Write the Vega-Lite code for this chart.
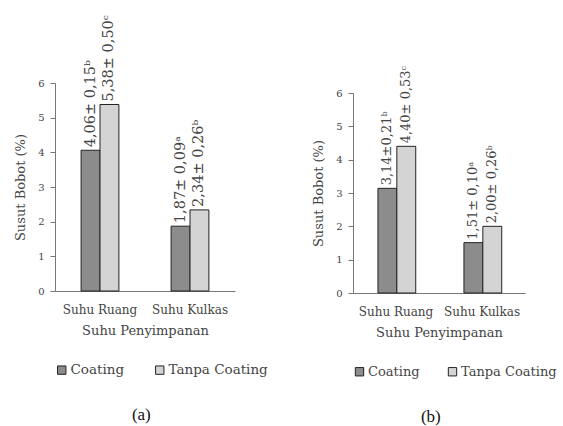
{
  "$schema": "https://vega.github.io/schema/vega-lite/v6.json",
  "background": "white",
  "padding": {"left": 14, "top": 15, "right": 3, "bottom": 5},
  "spacing": 44,
  "config": {
    "font": "DejaVu Serif",
    "view": {"stroke": null},
    "axis": {
      "labelFont": "DejaVu Serif",
      "titleFont": "DejaVu Serif",
      "labelFontSize": 11,
      "titleFontSize": 13,
      "titleFontWeight": "normal",
      "labelColor": "#444",
      "titleColor": "#444",
      "domainColor": "#777",
      "tickColor": "#777",
      "tickSize": 5,
      "grid": false
    },
    "legend": {
      "labelFont": "DejaVu Serif",
      "labelFontSize": 13.5,
      "labelColor": "#444",
      "symbolType": "square",
      "symbolSize": 70,
      "symbolStrokeColor": "#222",
      "symbolStrokeWidth": 1,
      "columnPadding": 28,
      "labelOffset": 2,
      "offset": 26
    },
    "title": {"font": "Liberation Serif", "fontSize": 17, "fontWeight": "normal", "color": "#111"}
  },
  "resolve": {"legend": {"fill": "independent"}, "scale": {"y": "independent", "x": "independent"}},
  "hconcat": [
    {
      "width": 180,
      "height": 208,
      "title": {"text": "(a)", "orient": "bottom", "offset": 30, "frame": "bounds", "anchor": "middle", "dx": 0},
      "data": {"values": [
        {"suhu": "Suhu Ruang", "perlakuan": "Coating", "nilai": 4.06, "label": "4,06± 0,15ᵇ"},
        {"suhu": "Suhu Ruang", "perlakuan": "Tanpa Coating", "nilai": 5.38, "label": "5,38± 0,50ᶜ"},
        {"suhu": "Suhu Kulkas", "perlakuan": "Coating", "nilai": 1.87, "label": "1,87± 0,09ᵃ"},
        {"suhu": "Suhu Kulkas", "perlakuan": "Tanpa Coating", "nilai": 2.34, "label": "2,34± 0,26ᵇ"}
      ]},
      "encoding": {
        "x": {"field": "suhu", "type": "nominal", "sort": ["Suhu Ruang", "Suhu Kulkas"],
              "scale": {"paddingInner": 0.58, "paddingOuter": 0.29},
              "axis": {"title": "Suhu Penyimpanan", "labelAngle": 0, "ticks": false, "labelPadding": 13, "titlePadding": 9, "labelFontSize": 12}},
        "xOffset": {"field": "perlakuan", "type": "nominal", "sort": ["Coating", "Tanpa Coating"]},
        "y": {"field": "nilai", "type": "quantitative", "scale": {"domain": [0, 6]},
              "axis": {"title": "Susut Bobot (%)", "tickCount": 6, "labelPadding": 6, "titlePadding": 10, "labelFontSize": 10}}
      },
      "layer": [
        {"mark": {"type": "bar", "stroke": "#222", "strokeWidth": 1},
         "encoding": {"fill": {"field": "perlakuan", "type": "nominal",
           "scale": {"domain": ["Coating", "Tanpa Coating"], "range": ["#8c8c8c", "#d4d4d4"]},
           "legend": {"orient": "bottom", "direction": "horizontal", "title": null}}}},
        {"mark": {"type": "text", "angle": 270, "align": "left", "baseline": "middle", "dx": 3, "fontSize": 14.5, "font": "DejaVu Serif", "color": "#444"},
         "encoding": {"text": {"field": "label"}}}
      ]
    },
    {
      "width": 172,
      "height": 210,
      "title": {"text": "(b)", "orient": "bottom", "offset": 30, "frame": "bounds", "anchor": "middle", "dx": -4},
      "data": {"values": [
        {"suhu": "Suhu Ruang", "perlakuan": "Coating", "nilai": 3.14, "label": "3,14±0,21ᵇ"},
        {"suhu": "Suhu Ruang", "perlakuan": "Tanpa Coating", "nilai": 4.40, "label": "4,40± 0,53ᶜ"},
        {"suhu": "Suhu Kulkas", "perlakuan": "Coating", "nilai": 1.51, "label": "1,51± 0,10ᵃ"},
        {"suhu": "Suhu Kulkas", "perlakuan": "Tanpa Coating", "nilai": 2.00, "label": "2,00± 0,26ᵇ"}
      ]},
      "encoding": {
        "x": {"field": "suhu", "type": "nominal", "sort": ["Suhu Ruang", "Suhu Kulkas"],
              "scale": {"paddingInner": 0.58, "paddingOuter": 0.29},
              "axis": {"title": "Suhu Penyimpanan", "labelAngle": 0, "ticks": false, "labelPadding": 13, "titlePadding": 9, "labelFontSize": 12}},
        "xOffset": {"field": "perlakuan", "type": "nominal", "sort": ["Coating", "Tanpa Coating"]},
        "y": {"field": "nilai", "type": "quantitative", "scale": {"domain": [0, 6], "range": [210, 10]},
              "axis": {"title": "Susut Bobot (%)", "tickCount": 6, "labelPadding": 6, "titlePadding": 10, "labelFontSize": 10}}
      },
      "layer": [
        {"mark": {"type": "bar", "stroke": "#222", "strokeWidth": 1},
         "encoding": {"fill": {"field": "perlakuan", "type": "nominal",
           "scale": {"domain": ["Coating", "Tanpa Coating"], "range": ["#8c8c8c", "#d4d4d4"]},
           "legend": {"orient": "bottom", "direction": "horizontal", "title": null, "labelFontSize": 13, "columnPadding": 26}}}},
        {"mark": {"type": "text", "angle": 270, "align": "left", "baseline": "middle", "dx": 3, "fontSize": 13, "font": "DejaVu Serif", "color": "#444"},
         "encoding": {"text": {"field": "label"}}}
      ]
    }
  ]
}
